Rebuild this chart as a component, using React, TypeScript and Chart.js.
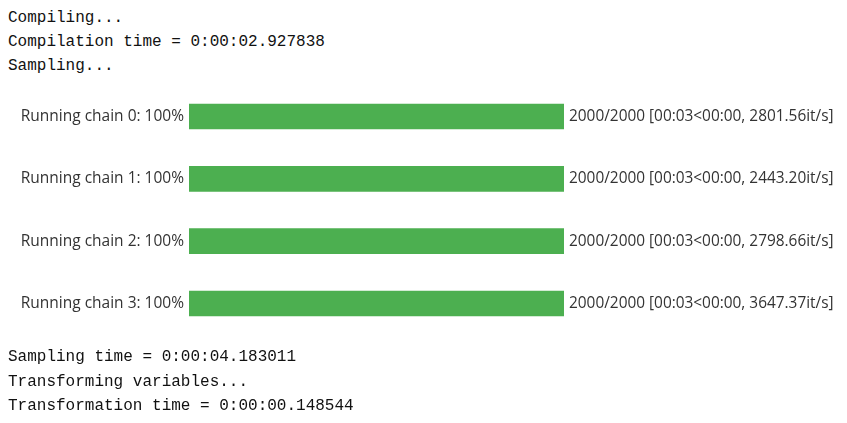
import { useEffect, useRef } from 'react'
import Chart from 'chart.js/auto'

// 진행률 막대 — 4개 체인 샘플링 로그
const HEAD_LINES = ['Compiling...', 'Compilation time = 0:00:02.927838', 'Sampling...']
const TAIL_LINES = ['Sampling time = 0:00:04.183011', 'Transforming variables...', 'Transformation time = 0:00:00.148544']

const CHAINS   = ['Running chain 0: 100%', 'Running chain 1: 100%', 'Running chain 2: 100%', 'Running chain 3: 100%']
const PERCENT  = [100, 100, 100, 100]
const STATUSES = [
  '2000/2000 [00:03<00:00, 2801.56it/s]',
  '2000/2000 [00:03<00:00, 2443.20it/s]',
  '2000/2000 [00:03<00:00, 2798.66it/s]',
  '2000/2000 [00:03<00:00, 3647.37it/s]',
]

const MONO = '"Liberation Mono", "DejaVu Sans Mono", monospace'
const SANS = '"Open Sans", "Noto Sans", sans-serif'

export default function App() {
  const canvasRef = useRef<HTMLCanvasElement>(null)

  useEffect(() => {
    if (!canvasRef.current) return

    // 막대 오른쪽 상태 텍스트
    const statusText = {
      id: 'statusText',
      afterDatasetsDraw(c: any) {
        const meta = c.getDatasetMeta(0)
        const { ctx } = c
        ctx.save()
        ctx.fillStyle = '#333'; ctx.font = `15.4px ${SANS}`
        ctx.textAlign = 'left'; ctx.textBaseline = 'middle'
        meta.data.forEach((bar: any, i: number) => {
          ctx.fillText(STATUSES[i], bar.x + 5, bar.y)
        })
        ctx.restore()
      },
    }

    const chart = new Chart(canvasRef.current, {
      type: 'bar',
      data: {
        labels: CHAINS,
        datasets: [{
          data: PERCENT, backgroundColor: '#4CAF50', borderWidth: 0,
          barThickness: 25,
        }],
      },
      options: {
        indexAxis: 'y', animation: false, responsive: true, maintainAspectRatio: false,
        layout: { padding: { left: 0, right: 283, top: 0, bottom: 0 } },
        plugins: { legend: { display: false }, tooltip: { enabled: false } },
        scales: {
          x: { display: false, min: 0, max: 100 },
          y: {
            grid: { display: false, drawTicks: false }, border: { display: false },
            afterFit: (s: any) => { s.width = 189 },
            ticks: { color: '#333', padding: 5, font: { size: 15.5, family: SANS } },
          },
        },
      },
      plugins: [statusText],
    })

    return () => { chart.destroy() }
  }, [])

  const textStyle: React.CSSProperties = {
    position: 'absolute', left: 8, margin: 0, fontFamily: MONO, fontSize: 16,
    color: '#111', whiteSpace: 'pre',
  }

  return (
    <div style={{ position: 'fixed', left: 0, top: 0, width: 847, height: 423, background: '#fff' }}>
      <div style={{ ...textStyle, top: 6, lineHeight: '24px' }}>
        {HEAD_LINES.map(l => <div key={l}>{l}</div>)}
      </div>
      <div style={{ position: 'absolute', left: 0, top: 71, width: 847, height: 278 }}>
        <canvas ref={canvasRef} />
      </div>
      <div style={{ ...textStyle, top: 345, lineHeight: '24.5px' }}>
        {TAIL_LINES.map(l => <div key={l}>{l}</div>)}
      </div>
    </div>
  )
}
